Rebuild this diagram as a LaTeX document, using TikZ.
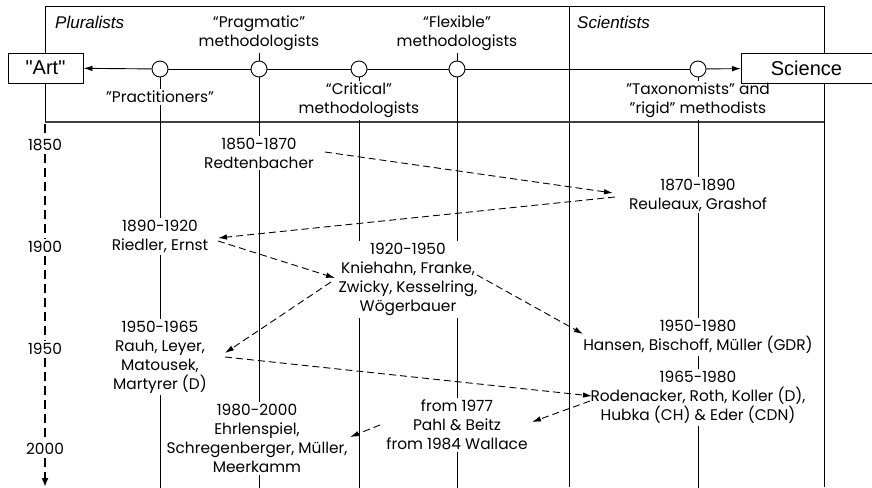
\documentclass[tikz,border=0pt]{standalone}
\usepackage{fontspec}
\setmainfont{Poppins}
\newfontfamily\arialf{Liberation Sans}
\usetikzlibrary{arrows.meta}

\begin{document}
\begin{tikzpicture}[x=1pt,y=-1pt,
  every node/.style={inner sep=2pt},
  lbl/.style={align=center,font=\fontsize{15.4}{19}\selectfont},
  hdr/.style={anchor=west,inner sep=0pt,font=\arialf\itshape\fontsize{17}{20}\selectfont},
  endbox/.style={draw,fill=white,line width=0.9pt,minimum height=30pt,font=\arialf\fontsize{20}{22}\selectfont},
  dot/.style={circle,draw,fill=white,line width=0.9pt,minimum size=16pt,inner sep=0pt},
  frame/.style={line width=0.9pt},
  vline/.style={line width=0.9pt},
  axis/.style={line width=0.9pt},
  tip/.style={-{Latex[length=9pt,width=5.5pt]}},
  link/.style={line width=0.9pt,dash pattern=on 7pt off 4pt,-{Latex[length=9pt,width=5.5pt]}},
  timeline/.style={line width=2pt,dash pattern=on 9pt off 5pt},
  year/.style={font=\fontsize{15.4}{19}\selectfont,inner sep=3pt}]

\useasboundingbox (0,0) rectangle (872,487);
\clip (0,0) rectangle (872,487);

% frame of the header band and the column dividers
\draw[frame] (45,122) -- (45,6) -- (824,6) -- (824,487);
\draw[frame] (569,6) -- (569,487);
\draw[line width=1.6pt,black!75] (45,122) -- (824,122);

\coordinate (bot) at (0,490);

% column headings
\node[hdr] (plur) at (55,22) {Pluralists};
\node[hdr] (scien) at (577,22) {Scientists};

% end points of the scale
\node[endbox,minimum width=75pt] (art) at (45.5,68) {"Art"};
\node[endbox,minimum width=140pt,anchor=west] (sci) at (741,68) {\hspace*{-10pt}Science};

% positions on the scale
\node[dot] (c1) at (160,69) {};
\node[dot] (c2) at (259,69) {};
\node[dot] (c3) at (359,69) {};
\node[dot] (c4) at (457,69) {};
\node[dot] (c5) at (698,69) {};

\draw[axis,tip] (c1) -- (art);
\draw[axis] (c1) -- (c2);
\draw[axis] (c2) -- (c3);
\draw[axis] (c3) -- (c4);
\draw[axis] (c4) -- (c5);
\draw[axis,tip] (c5) -- (sci);

% names of the schools
\node[lbl] (prag) at (259,33) {“Pragmatic"\\methodologists};
\node[lbl] (flex) at (457,33) {“Flexible"\\methodologists};
\node[lbl] (prac) at (160,97) {"Practitioners"};
\node[lbl] (crit) at (359,100.5) {“Critical"\\methodologists};
\node[lbl] (tax) at (698,100.5) {"Taxonomists" and\\"rigid" methodists};

% time axis
\coordinate (tltop) at (45,124);
\node[year] (y1850) at (45,145) {1850};
\node[year] (y1900) at (45,247) {1900};
\node[year] (y1950) at (45,349) {1950};
\node[year] (y2000) at (45,449) {2000};
\draw[timeline] (tltop) -- (y1850);
\draw[timeline] (y1850) -- (y1900);
\draw[timeline] (y1900) -- (y1950);
\draw[timeline] (y1950) -- (y2000);
\draw[timeline,-{Latex[length=9pt,width=7pt]}] (y2000) -- (45,487);

% periods and authors
\node[lbl] (redt) at (259,153) {1850-1870\\Redtenbacher};
\node[lbl] (reul) at (698,195) {1870-1890\\Reuleaux, Grashof};
\node[lbl] (ried) at (160,236.5) {1890-1920\\Riedler, Ernst};
\node[lbl] (knie) at (408,279.5) {1920-1950\\Kniehahn, Franke,\\Zwicky, Kesselring,\\Wögerbauer};
\node[lbl] (rauh) at (160,357) {1950-1965\\Rauh, Leyer,\\Matousek,\\Martyrer (D)};
\node[lbl] (hans) at (698,337) {1950-1980\\Hansen, Bischoff, Müller (GDR)};
\node[lbl] (rode) at (698,397.5) {1965-1980\\Rodenacker, Roth, Koller (D),\\Hubka (CH) \& Eder (CDN)};
\node[lbl] (pahl) at (457,425) {from 1977\\Pahl \& Beitz\\from 1984 Wallace};
\node[lbl] (ehrl) at (257,438.5) {1980-2000\\Ehrlenspiel,\\Schregenberger, Müller,\\Meerkamm};

% lines of the schools through time
\draw[vline] (c1) -- (prac);
\draw[vline] (prac) -- (ried);
\draw[vline] (ried) -- (rauh);
\draw[vline] (rauh) -- (c1 |- bot);

\draw[vline] (prag) -- (c2);
\draw[vline] (c2) -- (redt);
\draw[vline] (redt) -- (c2 |- ehrl.north);
\draw[vline] (c2 |- ehrl.south) -- (c2 |- bot);

\draw[vline] (c3) -- (crit);
\draw[vline] (crit) -- (c3 |- knie.north);
\draw[vline] (c3 |- knie.south) -- (c3 |- bot);

\draw[vline] (flex) -- (c4);
\draw[vline] (c4) -- (c4 |- knie.north);
\draw[vline] (c4 |- knie.south) -- (pahl);
\draw[vline] (pahl) -- (c4 |- bot);

\draw[vline] (c5) -- (tax);
\draw[vline] (tax) -- (reul);
\draw[vline] (reul) -- (hans);
\draw[vline] (hans) -- (rode);
\draw[vline] (rode) -- (c5 |- bot);

% influences
\draw[link] ([shift={(66,-1)}]redt.center) -- ([shift={(-85,-2)}]reul.center);
\draw[link] ([shift={(-83,2)}]reul.center) -- ([shift={(58,1.5)}]ried.center);
\draw[link] ([shift={(58,4.5)}]ried.center) -- ([shift={(-73,-1.5)}]knie.center);
\draw[link] ([shift={(-77,2.5)}]knie.center) -- ([shift={(65,-4)}]rauh.center);
\draw[link] ([shift={(69,-4.5)}]knie.center) -- ([shift={(-115,-3)}]hans.center);
\draw[link] ([shift={(65,0)}]rauh.center) -- ([shift={(-106,-1.5)}]rode.center);
\draw[link] ([shift={(-108,3.5)}]rode.center) -- ([shift={(75,-3)}]pahl.center);
\draw[link] ([shift={(-77,0)}]pahl.center) -- ([shift={(93,-1.5)}]ehrl.center);

\end{tikzpicture}
\end{document}
